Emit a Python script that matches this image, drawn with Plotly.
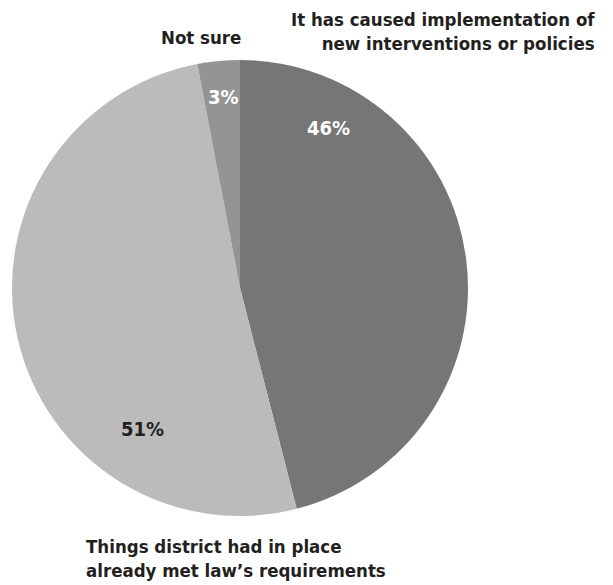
import plotly.graph_objects as go

labels = ["It has caused implementation of<br>new interventions or policies",
          "Things district had in place<br>already met law’s requirements",
          "Not sure"]
values = [46, 51, 3]
colors = ["#767676", "#bbbbbb", "#949494"]
pct_colors = ["#ffffff", "#231f20", "#ffffff"]

# page offset of the plot div (browser body margin)
OFF = 8
# label placement (page pixels)
pct_pos = [(328, 128), (142, 429), (223, 97)]
cat_pos = [(597, 32, "right"), (84, 558, "left"), (201, 37, "center")]

W, H = 613, 585
FONT = "Liberation Sans Narrow, DejaVu Sans Condensed, Open Sans, sans-serif"


def px(x):
    return (x - OFF) / W


def py(y):
    return 1 - (y - OFF) / H


fig = go.Figure(go.Pie(
    labels=labels, values=values, sort=False, direction="clockwise", rotation=0,
    marker=dict(colors=colors, line=dict(width=0)),
    textinfo="none", hoverinfo="label+percent", showlegend=False,
    domain=dict(x=[px(12), px(468)], y=[py(516), py(60)]),
))

total = sum(values)
anns = []
for v, c, (x, y) in zip(values, pct_colors, pct_pos):
    anns.append(dict(x=px(x), y=py(y), xref="paper", yref="paper",
                     text=f"<b>{round(100 * v / total)}%</b>", showarrow=False,
                     xanchor="center", yanchor="middle",
                     font=dict(family=FONT, size=20, color=c)))
for lab, (x, y, al) in zip(labels, cat_pos):
    anns.append(dict(x=px(x), y=py(y), xref="paper", yref="paper",
                     text=f"<b>{lab}</b>", showarrow=False, align=al, xanchor=al,
                     yanchor="middle",
                     font=dict(family=FONT, size=18.5, color="#231f20")))

fig.update_layout(width=W, height=H, margin=dict(l=0, r=0, t=0, b=0),
                  paper_bgcolor="white", plot_bgcolor="white", annotations=anns)
fig.write_html("out.html")
